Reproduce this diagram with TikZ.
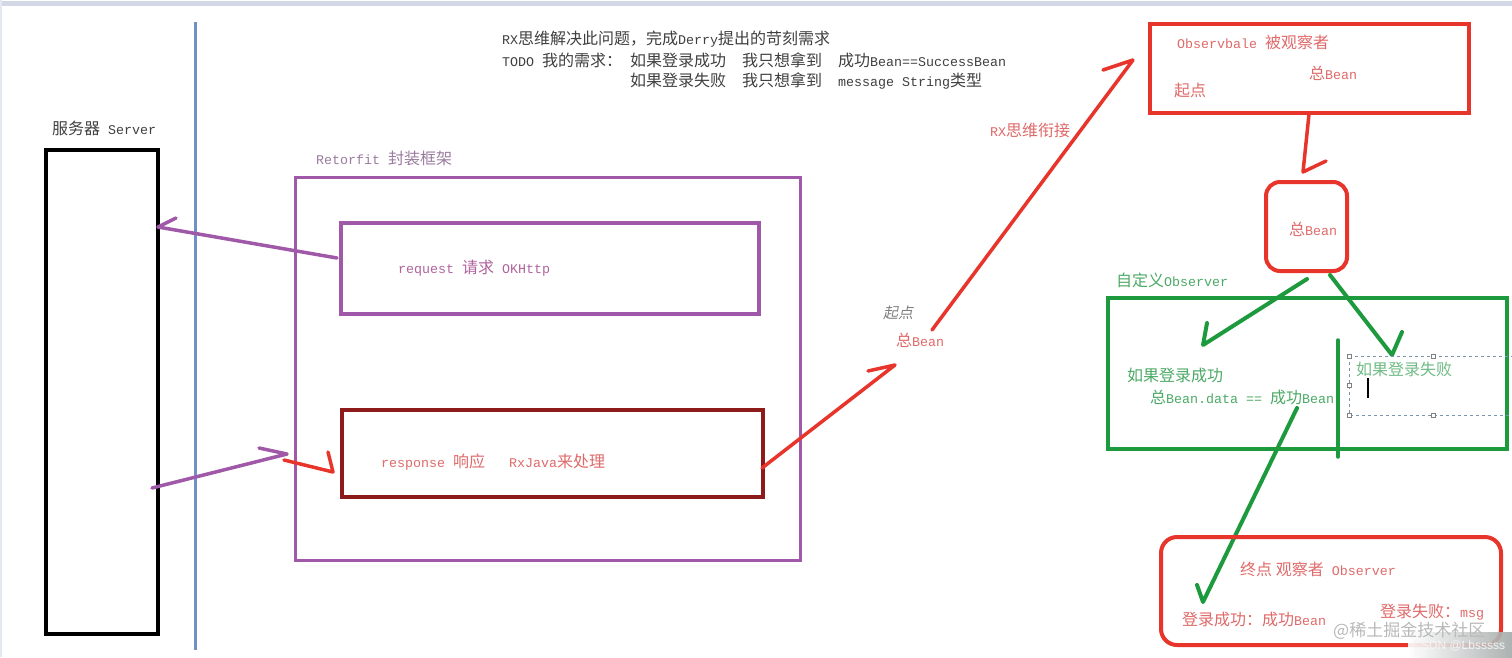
\documentclass[tikz,border=0pt]{standalone}
\usepackage{fontspec}
\setmainfont{Liberation Mono}
\newfontfamily\cjk{Noto Sans CJK SC}[Scale=1.2]
\newfontfamily\cjkit{Noto Sans CJK SC}[Scale=1.2,FakeSlant=0.2]
\newfontfamily\wmfont{Noto Sans CJK SC}
\newfontfamily\wmlat{Liberation Sans}
\newcommand\zh[1]{{\cjk #1}}
\definecolor{txtgray}{HTML}{404040}
\definecolor{purp}{HTML}{A058A8}
\definecolor{purptxt}{HTML}{B0649E}
\definecolor{purplab}{HTML}{9B7BA0}
\definecolor{darkred}{HTML}{8E1B1B}
\definecolor{redline}{HTML}{E8352B}
\definecolor{salmon}{HTML}{E06A6A}
\definecolor{grn}{HTML}{1E9A3E}
\definecolor{grntxt}{HTML}{4CAA66}
\definecolor{blueline}{HTML}{7090C8}
\definecolor{topbar}{HTML}{D3D8E6}
\definecolor{selbox}{HTML}{7A95B0}
\definecolor{wmgray}{HTML}{A3AAA9}
\begin{document}
\begin{tikzpicture}[x=1pt,y=-1pt,
  txt/.style={font=\fontsize{13.33}{16}\selectfont, inner sep=0pt, anchor=west},
  pen/.style={line width=3.5pt, line cap=round, line join=round},
  box/.style={draw, anchor=north west, inner sep=0pt},
  handle/.style={draw=gray, fill=white, line width=0.6pt, minimum size=4pt, inner sep=0pt}]
\useasboundingbox (0,0) rectangle (1512,657);
\fill[white] (0,0) rectangle (1512,657);
\fill[topbar] (0,1) rectangle (1512,5.5);
\fill[topbar!60] (0,0) rectangle (2,657);

% blue divider
\coordinate (bl1) at (195,22);
\coordinate (bl2) at (195,650);
\draw[blueline, line width=3pt] (bl1) -- (bl2);

% server
\node[txt, txtgray] (serverlab) at (52,128) {\zh{服务器} Server};
\node[box, line width=4pt, minimum width=112pt, minimum height=484pt] (server) at (44,148) {};

% retrofit
\node[txt, purplab] (retlab) at (316,158) {Retorfit \zh{封装框架}};
\node[box, purp, line width=3pt, minimum width=505pt, minimum height=383pt] (ret) at (294,176) {};
\node[box, purp, line width=4pt, minimum width=418pt, minimum height=91pt] (req) at (339,221) {};
\node[txt, purptxt] (reqtxt) at (398,268) {request \zh{请求} OKHttp};
\node[box, darkred, line width=4pt, minimum width=421pt, minimum height=87pt] (resp) at (340,408) {};
\node[txt, salmon] (resptxt) at (381,462) {response \zh{响应}\hspace{16pt} RxJava\zh{来处理}};

% top text
\node[txt, txtgray] (t1) at (502,39) {RX\zh{思维解决此问题，完成}Derry\zh{提出的苛刻需求}};
\node[txt, txtgray] (t2) at (502,60) {TODO \zh{我的需求：} \zh{如果登录成功}\hspace{8pt} \zh{我只想拿到}\hspace{8pt} \zh{成功}Bean==SuccessBean};
\node[txt, txtgray] (t3) at (630,81) {\zh{如果登录失败}\hspace{8pt} \zh{我只想拿到}\hspace{8pt} message String\zh{类型}};

% request arrow to server
\coordinate (a1s) at (337,258);
\coordinate (a1e) at (158,227);
\coordinate (a1b) at (176,218);
\draw[pen, purp] (a1s) -- (a1e) -- (a1b);
% server to retrofit
\coordinate (a2s) at (152,488);
\coordinate (a2e) at (287,454);
\coordinate (a2b) at (259,448);
\draw[pen, purp] (a2s) -- (a2e) -- (a2b);
% red into response
\coordinate (a3s) at (284,460);
\coordinate (a3e) at (333,472);
\coordinate (a3b) at (328,452);
\draw[pen, redline] (a3s) -- (a3e) -- (a3b);
% response to bean
\coordinate (a4s) at (762,468);
\coordinate (a4e) at (895,365);
\coordinate (a4b) at (868,371);
\draw[pen, redline] (a4s) -- (a4e) -- (a4b);

\node[txt, gray, font=\cjkit\fontsize{12.5}{15}\selectfont] (qd1) at (883,313) {起点};
\node[txt, salmon] (bean1) at (896,340) {\zh{总}Bean};

% RX link
\coordinate (a5s) at (932,330);
\coordinate (a5e) at (1133,60);
\coordinate (a5b) at (1103,70);
\draw[pen, redline] (a5s) -- (a5e) -- (a5b);
\node[txt, salmon] (rxlab) at (990,130) {RX\zh{思维衔接}};

% observable
\node[box, redline, line width=4pt, minimum width=319pt, minimum height=89pt] (obs) at (1148,22) {};
\node[txt, salmon] (obst) at (1177,42) {Observbale \zh{被观察者}};
\node[txt, salmon] (obsb) at (1309,73) {\zh{总}Bean};
\node[txt, salmon] (obsq) at (1174,90) {\zh{起点}};

\coordinate (a6s) at (1309,114);
\coordinate (a6e) at (1303,172);
\coordinate (a6b) at (1326,161);
\draw[pen, redline] (a6s) -- (a6e) -- (a6b);

\node[box, redline, line width=4pt, rounded corners=14pt, minimum width=81pt, minimum height=89pt] (beanbox) at (1264,180) {};
\node[txt, salmon] (beant) at (1289,229) {\zh{总}Bean};

% custom observer
\node[txt, grntxt] (colab) at (1116,280) {\zh{自定义}Observer};
\node[box, grn, line width=4pt, minimum width=399pt, minimum height=151pt] (cobs) at (1106,296) {};

\coordinate (a7s) at (1307,279);
\coordinate (a7e) at (1203,345);
\coordinate (a7b) at (1207,323);
\draw[pen, grn, line width=4pt] (a7s) -- (a7e) -- (a7b);
\coordinate (a8s) at (1330,275);
\coordinate (a8e) at (1392,355);
\coordinate (a8b) at (1402,332);
\draw[pen, grn, line width=4pt] (a8s) -- (a8e) -- (a8b);
\coordinate (v1) at (1338,340);
\coordinate (v2) at (1338,457);
\draw[pen, grn, line width=3.5pt] (v1) -- (v2);

\node[txt, grntxt] (succ) at (1127,375) {\zh{如果登录成功}};
\node[txt, grntxt] (succ2) at (1150,397) {\zh{总}Bean.data == \zh{成功}Bean};

% selection box
\draw[selbox, dashed, line width=0.8pt] (1349,356) -- (1515,356) (1349,356) -- (1349,415) -- (1515,415);
\foreach \p in {(1349,356),(1433,356),(1349,385),(1349,415),(1433,415)}
  \node[handle] at \p {};
\node[txt, grntxt!80] (fail) at (1356,369) {\zh{如果登录失败}};
\coordinate (cur1) at (1368,378);
\coordinate (cur2) at (1368,398);
\draw[black, line width=1.2pt] (cur1) -- (cur2);

\coordinate (a9s) at (1297,408);
\coordinate (a9e) at (1203,602);
\coordinate (a9b) at (1197,585);
\draw[pen, grn, line width=4pt] (a9s) -- (a9e) -- (a9b);

% end observer
\node[box, redline, line width=4pt, rounded corners=16pt, minimum width=340pt, minimum height=108pt] (endobs) at (1159,535) {};
\node[txt, salmon] (endt) at (1240,569) {\zh{终点 观察者} Observer};
\node[txt, salmon] (ends) at (1182,619) {\zh{登录成功：成功}Bean};
\node[txt, salmon] (endf) at (1380,612) {\zh{登录失败：}msg};

% watermark
\shade[left color=white, right color=wmgray, opacity=0.9] (1408,632) rectangle (1512,657);
\node[txt, gray!55, font=\wmfont\fontsize{17}{20}\selectfont] (wm1) at (1333,631) {@稀土掘金技术社区};
\node[txt, white!92!gray, font=\wmlat\fontsize{12}{14}\selectfont] (wm2) at (1412,646) {CSDN @Lbsssss};
\end{tikzpicture}
\end{document}
